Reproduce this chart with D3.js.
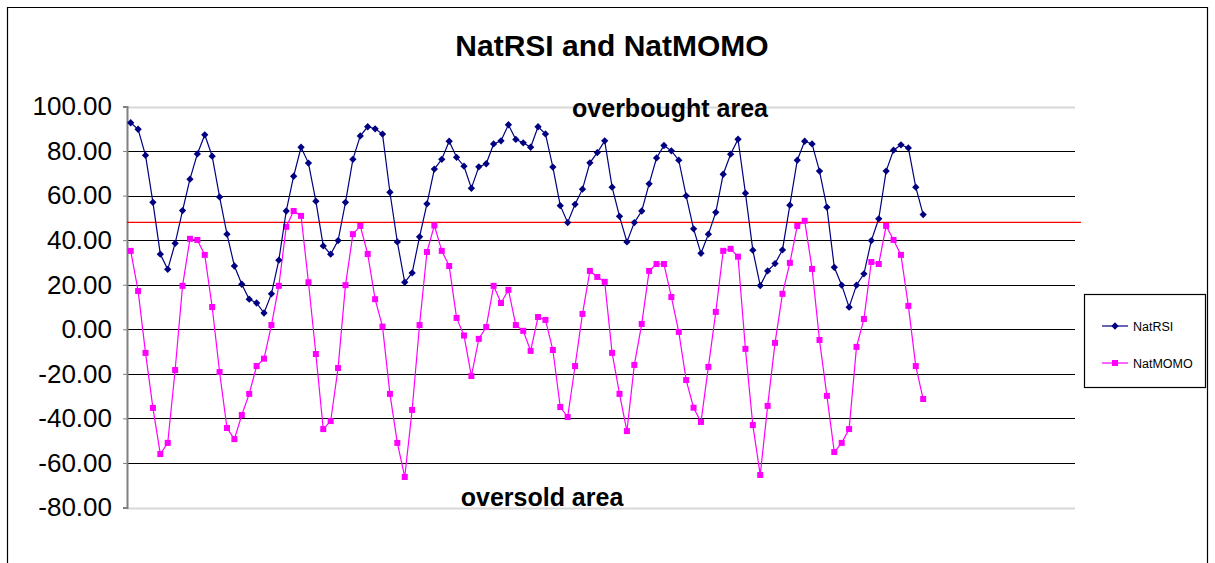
<!DOCTYPE html>
<html>
<head>
<meta charset="utf-8">
<script src="https://cdnjs.cloudflare.com/ajax/libs/d3/7.8.5/d3.min.js"></script>
<style>
body { margin:0; background:#fff; }
text { font-family: Arial, "Liberation Sans", sans-serif; }
</style>
</head>
<body>
<svg id="chart"></svg>
<script>
// values
var natRSI = [92.7, 89.8, 78.1, 57.0, 33.7, 26.9, 38.6, 53.3, 67.4, 78.7,
  87.3, 77.7, 59.4, 42.7, 28.4, 20.2, 13.5, 11.8, 7.3, 15.9,
  31.0, 53.1, 68.7, 81.7, 74.6, 57.5, 37.4, 33.7, 39.8, 57.0,
  76.3, 86.8, 90.9, 90.0, 87.6, 61.5, 39.2, 21.1, 25.3, 41.5,
  56.3, 71.9, 76.3, 84.4, 77.2, 73.2, 63.3, 72.9, 74.3, 83.2,
  84.6, 91.8, 85.2, 83.7, 81.7, 90.9, 87.7, 72.8, 55.5, 47.9,
  56.1, 62.9, 74.7, 79.3, 84.6, 63.8, 50.7, 39.2, 47.9, 53.1,
  65.3, 76.9, 82.5, 80.1, 75.9, 59.9, 45.1, 34.1, 42.7, 52.5,
  69.6, 78.6, 85.3, 61.1, 35.5, 19.6, 26.2, 29.5, 35.6, 55.7,
  75.9, 84.4, 83.2, 71.0, 54.8, 27.8, 19.8, 9.9, 19.8, 24.9,
  39.8, 49.6, 71.0, 80.4, 82.8, 81.4, 63.8, 51.5];

var natMOMO = [35.2, 17.2, -10.6, -35.3, -56.0, -51.0, -18.3, 19.5, 40.6, 40.1,
  33.4, 10.0, -19.2, -44.3, -49.3, -38.5, -29.0, -16.5, -13.2, 1.9,
  19.5, 46.0, 53.1, 50.9, 21.1, -11.1, -44.8, -41.2, -17.4, 19.8,
  42.7, 46.4, 33.8, 13.5, 1.2, -29.0, -51.0, -66.3, -36.2, 1.9,
  34.7, 46.6, 35.2, 28.4, 5.1, -2.8, -21.0, -4.3, 1.0, 19.5,
  11.8, 17.7, 1.9, -0.7, -9.7, 5.5, 4.2, -9.3, -34.9, -39.4,
  -16.5, 6.9, 26.2, 23.5, 21.3, -10.6, -29.0, -45.7, -16.0, 2.4,
  26.2, 29.3, 29.3, 14.5, -1.2, -22.8, -35.2, -41.6, -16.9, 7.8,
  35.2, 36.1, 32.6, -8.8, -43.0, -65.4, -34.4, -6.1, 15.9, 29.8,
  46.4, 48.7, 27.1, -4.8, -29.9, -55.1, -51.0, -44.8, -7.9, 4.6,
  30.2, 29.3, 46.4, 40.1, 33.4, 10.5, -16.5, -31.3];

var seriesNames = ["NatRSI", "NatMOMO"];
var yTicks = [-80, -60, -40, -20, 0, 20, 40, 60, 80, 100];
var signalLevel = 48;
var categoryCount = 128; // the sheet has empty rows after the last value
var titleText = "NatRSI and NatMOMO";
var topNote = "overbought area";
var bottomNote = "oversold area";

var screen = { width: 1215, height: 563 };
var plot = { left: 127, right: 1075, top: 106.5, bottom: 507.5 };

var svg = d3.select('#chart')
  .attr('width', screen.width)
  .attr('height', screen.height);

// chart area border (runs off the bottom)
svg.append('path')
  .attr('d', 'M7.5,' + screen.height + 'V7.5H1207.5V' + screen.height)
  .attr('fill', 'none')
  .attr('stroke', '#000')
  .attr('stroke-width', 1.2);

var xScale = d3.scaleBand()
  .domain(d3.range(categoryCount))
  .range([plot.left, plot.right]);
var yScale = d3.scaleLinear()
  .domain([-80, 100])
  .range([plot.bottom, plot.top]);

var xPos = function(d, i) { return xScale(i) + xScale.bandwidth() / 2; };

// gridlines
svg.append('g').selectAll('line')
  .data(yTicks)
  .enter().append('line')
  .attr('x1', plot.left)
  .attr('x2', plot.right)
  .attr('y1', function(d) { return Math.round(yScale(d)) + 0.5; })
  .attr('y2', function(d) { return Math.round(yScale(d)) + 0.5; })
  .attr('stroke', function(d) { return (d == 100 || d == -80) ? '#d8d8d8' : '#000'; })
  .attr('stroke-width', function(d) { return (d == 100 || d == -80) ? 2 : 1.2; });

// y axis, plain hyphen for the minus sign like the sheet
var yAxis = d3.axisLeft(yScale)
  .tickValues(yTicks)
  .tickFormat(function(d) { return d.toFixed(2); })
  .tickSize(4)
  .tickPadding(11);
var yG = svg.append('g')
  .attr('transform', 'translate(' + plot.left + ',0)')
  .call(yAxis);
yG.select('.domain').attr('stroke', '#808080').attr('stroke-width', 2);
yG.selectAll('.tick line').attr('stroke', '#808080');
yG.selectAll('.tick text')
  .attr('fill', '#000')
  .style('font-size', '26px')
  .style('font-family', 'Arial, "Liberation Sans", sans-serif');

// signal line
svg.append('line')
  .attr('x1', plot.left)
  .attr('x2', 1081)
  .attr('y1', yScale(signalLevel))
  .attr('y2', yScale(signalLevel))
  .attr('stroke', '#ff0000')
  .attr('stroke-width', 1.2);

var drawLine = d3.line()
  .x(xPos)
  .y(function(d) { return yScale(d); });

// NatMOMO
svg.append('path')
  .datum(natMOMO)
  .attr('d', drawLine)
  .attr('fill', 'none')
  .attr('stroke', '#ff00ff')
  .attr('stroke-width', 1.2);
svg.append('g').selectAll('rect')
  .data(natMOMO)
  .enter().append('rect')
  .attr('x', function(d, i) { return xPos(d, i) - 3; })
  .attr('y', function(d) { return yScale(d) - 3; })
  .attr('width', 6)
  .attr('height', 6)
  .attr('fill', '#ff00ff');

// NatRSI
svg.append('path')
  .datum(natRSI)
  .attr('d', drawLine)
  .attr('fill', 'none')
  .attr('stroke', '#000080')
  .attr('stroke-width', 1.2);
var diamond = d3.symbol().type(d3.symbolDiamond2).size(34);
svg.append('g').selectAll('path')
  .data(natRSI)
  .enter().append('path')
  .attr('d', diamond)
  .attr('transform', function(d, i) { return 'translate(' + xPos(d, i) + ',' + yScale(d) + ')'; })
  .attr('fill', '#000080');

// title and notes
svg.append('text')
  .attr('x', 612)
  .attr('y', 56)
  .attr('text-anchor', 'middle')
  .style('font-size', '30px')
  .style('font-weight', 'bold')
  .text(titleText);
svg.append('text')
  .attr('x', 670)
  .attr('y', 117)
  .attr('text-anchor', 'middle')
  .style('font-size', '25px')
  .style('font-weight', 'bold')
  .text(topNote);
svg.append('text')
  .attr('x', 542)
  .attr('y', 506)
  .attr('text-anchor', 'middle')
  .style('font-size', '25px')
  .style('font-weight', 'bold')
  .text(bottomNote);

// legend
var legend = svg.append('g');
legend.append('rect')
  .attr('x', 1084.5)
  .attr('y', 294.5)
  .attr('width', 121)
  .attr('height', 93)
  .attr('fill', '#fff')
  .attr('stroke', '#000')
  .attr('stroke-width', 1.2);
var legendY = [326, 363];
var legendColor = ['#000080', '#ff00ff'];
seriesNames.forEach(function(name, i)
{
  legend.append('line')
    .attr('x1', 1102).attr('x2', 1128)
    .attr('y1', legendY[i]).attr('y2', legendY[i])
    .attr('stroke', legendColor[i])
    .attr('stroke-width', 1.2);
  if (i == 0)
  {
    legend.append('path')
      .attr('d', diamond)
      .attr('transform', 'translate(1115,' + legendY[i] + ')')
      .attr('fill', legendColor[i]);
  }
  else
  {
    legend.append('rect')
      .attr('x', 1112).attr('y', legendY[i] - 3)
      .attr('width', 6).attr('height', 6)
      .attr('fill', legendColor[i]);
  }
  legend.append('text')
    .attr('x', 1133)
    .attr('y', legendY[i] + 4.5)
    .style('font-size', '12.5px')
    .text(name);
});
</script>
</body>
</html>
